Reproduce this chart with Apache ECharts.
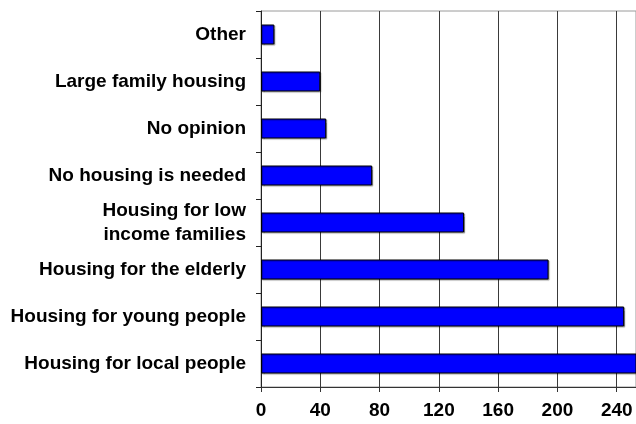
<!DOCTYPE html>
<html>
<head>
<meta charset="utf-8">
<script src="https://cdn.jsdelivr.net/npm/echarts@6/dist/echarts.min.js"></script>
<style>
  html, body { margin: 0; padding: 0; background: #fff; }
  #chart { width: 636px; height: 424px; }
</style>
</head>
<body>
<div id="chart"></div>
<script>
// Survey responses: type of housing wanted (top to bottom)
const categories = [
  'Other',
  'Large family housing',
  'No opinion',
  'No housing is needed',
  'Housing for low\nincome families',
  'Housing for the elderly',
  'Housing for young people',
  'Housing for local people'
];
const responses = [9, 40, 44, 75, 137, 194, 245, 258];
const tickStep = 40;
// The value axis stops just past 240; the longest bar runs off the plot edge
const axisMax = 253;

const chart = echarts.init(document.getElementById('chart'), null, { renderer: 'canvas' });
const font = { fontFamily: '"Liberation Sans", Arial, sans-serif', fontWeight: 'bold', fontSize: 19, color: '#000' };

chart.setOption({
  animation: false,
  backgroundColor: '#fff',
  grid: {
    left: 261, top: 11, bottom: 37, right: 0,
    show: true, borderColor: '#9a9a9a', borderWidth: 1, backgroundColor: 'transparent'
  },
  xAxis: {
    type: 'value', min: 0, max: axisMax, interval: tickStep,
    axisLine: { show: true, lineStyle: { color: '#333', width: 1 } },
    axisTick: { show: true, length: 5, lineStyle: { color: '#333' } },
    splitLine: { show: true, lineStyle: { color: '#3a3a3a', width: 1 } },
    axisLabel: Object.assign({ margin: 14, showMaxLabel: false }, font)
  },
  yAxis: {
    type: 'category', data: categories, inverse: true,
    axisLine: { show: true, lineStyle: { color: '#222', width: 1 } },
    axisTick: { show: true, length: 5, lineStyle: { color: '#222' } },
    splitLine: { show: false },
    axisLabel: Object.assign({ margin: 15, align: 'right', lineHeight: 24 }, font)
  },
  series: [{
    type: 'bar',
    data: responses,
    barWidth: 20,
    itemStyle: {
      color: '#0000ff', borderColor: '#000', borderWidth: 1,
      shadowColor: 'rgba(0,0,0,0.35)', shadowOffsetX: 1, shadowOffsetY: 1, shadowBlur: 1
    }
  }]
});
</script>
</body>
</html>
